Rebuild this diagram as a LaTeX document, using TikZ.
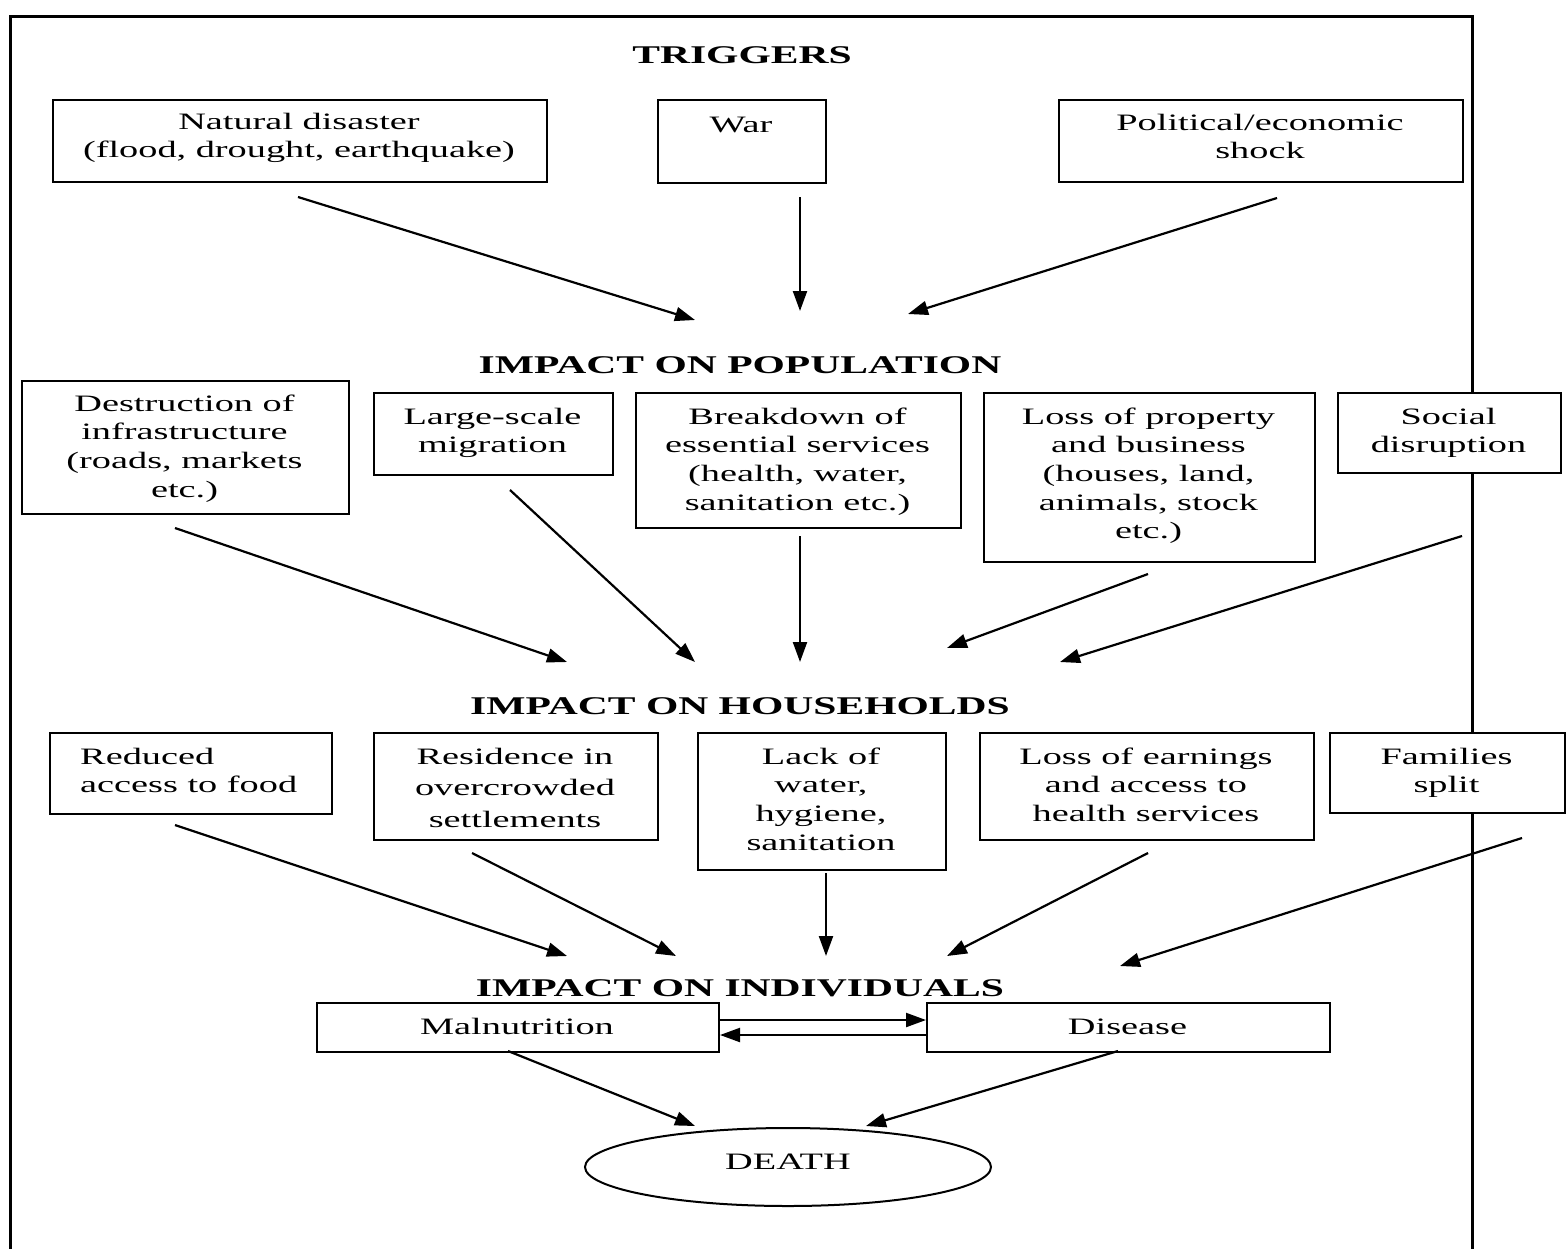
\documentclass[tikz,border=0pt]{standalone}
\usepackage{fontspec}
\setmainfont{Liberation Serif}[FakeStretch=1.63]
\usetikzlibrary{arrows.meta,shapes.geometric}

\newcommand{\tbc}[1]{\begin{tabular}[t]{@{}c@{}}#1\end{tabular}}
\newcommand{\tbl}[1]{\begin{tabular}[t]{@{}l@{}}#1\end{tabular}}
% name, x1, y1, x2, y2, first baseline y, text
\newcommand{\mybox}[7]{%
  \node[box, minimum width={(#4-#2)*1pt}, minimum height={(#5-#3)*1pt}] (#1) at (#2,#3) {};
  \node[txt, anchor=base] (#1-t) at ({(#2+#4)/2},#6) {\tbc{#7}};}

\begin{document}
\begin{tikzpicture}[x=1pt,y=-1pt,
  box/.style={draw, line width=2pt, fill=white, inner sep=0pt, anchor=north west},
  txt/.style={inner sep=0pt, font=\fontsize{23.5}{28.7}\selectfont},
  head/.style={inner sep=0pt, anchor=base, font=\fontsize{25.5}{30}\selectfont\bfseries},
  arr/.style={line width=2.2pt, -{Triangle[length=20pt,width=14pt]}},
]
\useasboundingbox (0,0) rectangle (1566,1248);
\clip (0,0) rectangle (1566,1248);
\fill[white] (0,0) rectangle (1566,1248);

% frame
\draw[line width=3pt] (10,16) rectangle (1472,1270);

% headings
\node[head] (trig) at (742,63) {TRIGGERS};
\node[head] (hpop) at (740,373) {IMPACT ON POPULATION};
\node[head] (hhh) at (740,714) {IMPACT ON HOUSEHOLDS};
\node[head] (hind) at (740,996) {IMPACT ON INDIVIDUALS};

% triggers
\mybox{nat}{52}{99}{546}{181}{129}{Natural disaster\\(flood, drought, earthquake)}
\mybox{war}{657}{99}{825}{182}{132}{War}
\mybox{pol}{1058}{99}{1462}{181}{130}{Political/economic\\shock}

% population
\mybox{des}{21}{380}{348}{513}{411}{Destruction of\\infrastructure\\(roads, markets\\etc.)}
\mybox{mig}{373}{392}{612}{474}{424}{Large-scale\\migration}
\mybox{brk}{635}{392}{960}{527}{424}{Breakdown of\\essential services\\(health, water,\\sanitation etc.)}
\mybox{los}{983}{392}{1314}{561}{424}{Loss of property\\and business\\(houses, land,\\animals, stock\\etc.)}
\mybox{soc}{1337}{392}{1560}{472}{424}{Social\\disruption}

% households
\node[box, minimum width=282pt, minimum height=81pt] (red) at (49,732) {};
\node[txt, anchor=base west] (red-t) at (80,764) {\tbl{Reduced\\access to food}};
\mybox{res}{373}{732}{657}{839}{764}{Residence in\\[2.5pt]overcrowded\\[3.5pt]settlements}
\mybox{lack}{697}{732}{945}{869}{764}{Lack of\\water,\\hygiene,\\sanitation}
\mybox{earn}{979}{732}{1313}{839}{764}{Loss of earnings\\and access to\\health services}
\mybox{fam}{1329}{732}{1564}{812}{764}{Families\\split}

% individuals
\mybox{mal}{316}{1002}{718}{1051}{1034}{Malnutrition}
\mybox{dis}{926}{1002}{1329}{1051}{1034}{Disease}

% death
\node[draw, ellipse, line width=2pt, fill=white, inner sep=0pt,
      minimum width=406pt, minimum height=78pt] (death) at (788,1167) {};
\node[txt, anchor=base] (death-t) at (788,1169) {DEATH};

% connector end points
\coordinate (a1s) at (298,197);  \coordinate (a1e) at (695,320);
\coordinate (a2s) at (800,197);  \coordinate (a2e) at (800,311);
\coordinate (a3s) at (1277,198); \coordinate (a3e) at (908,314);

\coordinate (b1s) at (175,528);  \coordinate (b1e) at (567,662);
\coordinate (b2s) at (510,490);  \coordinate (b2e) at (695,662);
\coordinate (b3s) at (800,536);  \coordinate (b3e) at (800,662);
\coordinate (b4s) at (1148,574); \coordinate (b4e) at (947,648);
\coordinate (b5s) at (1462,536); \coordinate (b5e) at (1060,662);

\coordinate (c1s) at (175,825);  \coordinate (c1e) at (567,956);
\coordinate (c2s) at (472,853);  \coordinate (c2e) at (676,956);
\coordinate (c3s) at (826,873);  \coordinate (c3e) at (826,956);
\coordinate (c4s) at (1148,853); \coordinate (c4e) at (947,956);
\coordinate (c5s) at (1522,838); \coordinate (c5e) at (1120,966);

\coordinate (d1s) at (508,1051); \coordinate (d1e) at (695,1126);
\coordinate (d2s) at (1118,1051);\coordinate (d2e) at (866,1126);

\foreach \p in {a1,a2,a3,b1,b2,b3,b4,b5,c1,c2,c3,c4,c5,d1,d2}
  \draw[arr] (\p s) -- (\p e);

\draw[arr] ([yshift=7.5pt]mal.east) -- ([yshift=7.5pt]dis.west);
\draw[arr] ([yshift=-7.5pt]dis.west) -- ([yshift=-7.5pt]mal.east);
\end{tikzpicture}
\end{document}
